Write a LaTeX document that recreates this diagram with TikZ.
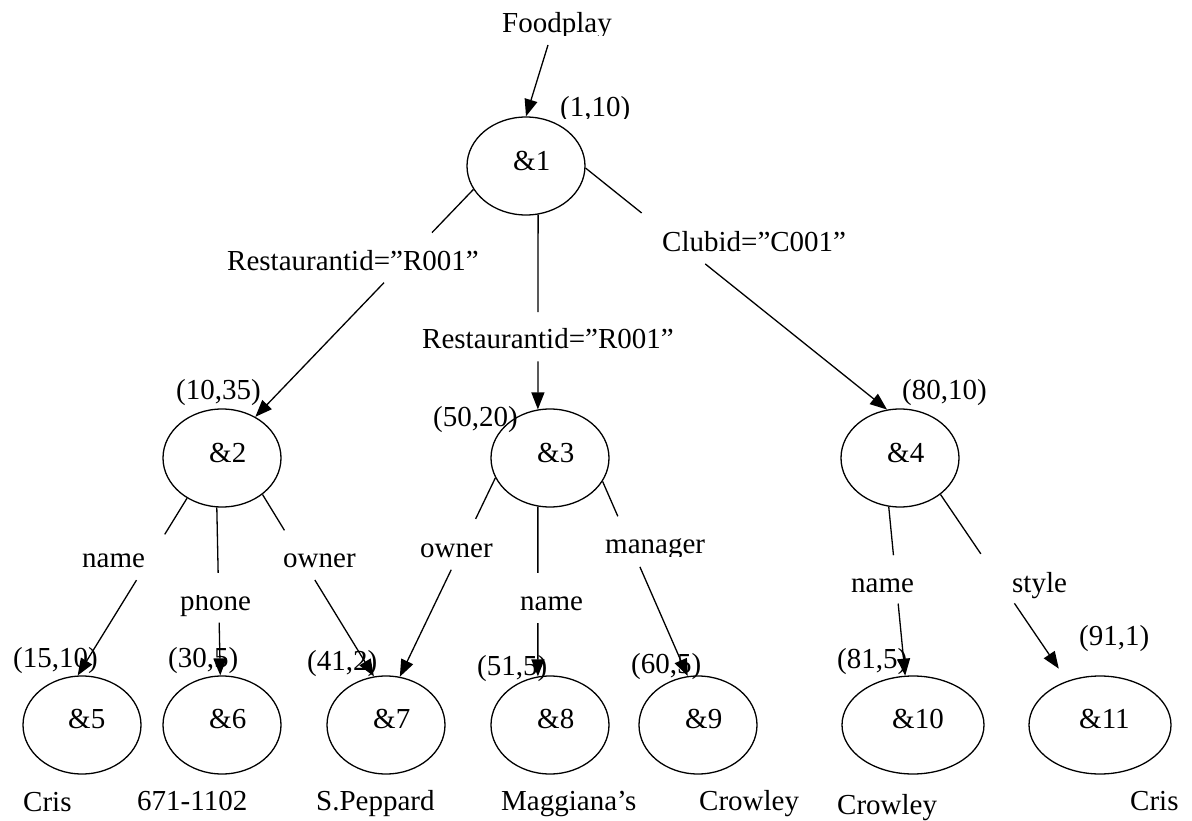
\documentclass[tikz,border=0pt]{standalone}
\usepackage{fontspec}
\setmainfont{Liberation Serif}
\usetikzlibrary{shapes.geometric,arrows.meta,calc}

% an edge interrupted by its label: solid part, gap, arrowed part
\newcommand\gapedge[4]{%
  \draw[edge] (#1) -- ($(#1)!#3!(#2)$);
  \draw[edge,arr] ($(#1)!#4!(#2)$) -- (#2);}

\begin{document}
\begin{tikzpicture}[x=1pt,y=-1pt,
  oval/.style={draw, ellipse, line width=1.3pt, inner sep=0pt,
               minimum width=118pt, minimum height=98pt},
  wideoval/.style={oval, minimum width=142pt},
  lbl/.style={inner sep=0pt, anchor=base west, font=\fontsize{29}{34}\selectfont},
  edge/.style={line width=1.3pt},
  arr/.style={-{Triangle[length=17pt,width=13pt]}}]

\path[use as bounding box] (0,0) rectangle (1192,821);

% object nodes
\node[oval] (n1) at (526,166) {};
\node[oval] (n2) at (222,458) {};
\node[oval] (n3) at (550,458) {};
\node[oval] (n4) at (900,458) {};
\node[oval] (n5) at (82,725) {};
\node[oval] (n6) at (222,725) {};
\node[oval] (n7) at (386,725) {};
\node[oval] (n8) at (550,725) {};
\node[oval] (n9) at (698,725) {};
\node[wideoval] (n10) at (913,725) {};
\node[wideoval] (n11) at (1100,725) {};

% object identifiers
\node[lbl] (t1) at (513,171) {\&1};
\node[lbl] (t2) at (209,462) {\&2};
\node[lbl] (t3) at (537,462) {\&3};
\node[lbl] (t4) at (887,462) {\&4};
\node[lbl] (t5) at (68,728) {\&5};
\node[lbl] (t6) at (209,728) {\&6};
\node[lbl] (t7) at (373,728) {\&7};
\node[lbl] (t8) at (537,728) {\&8};
\node[lbl] (t9) at (685,728) {\&9};
\node[lbl] (t10) at (892,728) {\&10};
\node[lbl] (t11) at (1079,728) {\&11};

% root name and interval labels
\begin{scope}
  \clip (490,0) rectangle (630,36);
  \node[lbl] (food) at (502,33) {Foodplay};
\end{scope}
\begin{scope}
  \clip (550,90) rectangle (645,119);
  \node[lbl] (c1) at (560,117) {(1,10)};
\end{scope}
\node[lbl] (c2) at (176,399) {(10,35)};
\node[lbl] (c3) at (433,426) {(50,20)};
\node[lbl] (c4) at (902,399) {(80,10)};
\node[lbl] (c5) at (13,667) {(15,10)};
\node[lbl] (c6) at (168,667) {(30,5)};
\node[lbl] (c7) at (307,670) {(41,2)};
\node[lbl] (c8) at (477,675) {(51,5)};
\node[lbl] (c9) at (631,673) {(60,5)};
\node[lbl] (c10) at (837,668) {(81,5)};
\node[lbl] (c11) at (1079,645) {(91,1)};

% edge labels
\node[lbl] (e1) at (227,271) {Restaurantid=”R001”};
\node[lbl] (e2) at (422,348) {Restaurantid=”R001”};
\node[lbl] (e3) at (662,252) {Clubid=”C001”};
\node[lbl] (e4) at (82,567) {name};
\begin{scope}
  \clip (170,595) rectangle (265,630);
  \node[lbl] (e5) at (180,610) {phone};
\end{scope}
\node[lbl] (e6) at (283,567) {owner};
\node[lbl] (e7) at (420,557) {owner};
\node[lbl] (e8) at (520,610) {name};
\begin{scope}
  \clip (595,520) rectangle (720,556);
  \node[lbl] (e9) at (605,553) {manager};
\end{scope}
\node[lbl] (e10) at (851,592) {name};
\node[lbl] (e11) at (1012,592) {style};

% atomic values
\node[lbl] (v5) at (23,811) {Cris};
\node[lbl] (v6) at (137,810) {671-1102};
\node[lbl] (v7) at (316,810) {S.Peppard};
\node[lbl] (v8) at (501,810) {Maggiana’s};
\node[lbl] (v9) at (699,810) {Crowley};
\node[lbl] (v10) at (837,814) {Crowley};
\node[lbl] (v11) at (1130,810) {Cris};

% connectors
\coordinate (foodout) at (548,45);
\draw[edge,arr] (foodout) -- (n1.north);
\gapedge{n1.204}{n2.51}{0.19}{0.41}
\gapedge{n1.284}{n3.104}{0.501}{0.754}
\gapedge{n1.358}{n4.105}{0.186}{0.397}
\gapedge{n2.229}{n5.95}{0.204}{0.462}
\gapedge{n2.264}{n6.92}{0.39}{0.686}
\gapedge{n2.318}{n7.104}{0.197}{0.47}
\gapedge{n3.200}{n7.74}{0.206}{0.462}
\gapedge{n3.256}{n8.104}{0.39}{0.686}
\gapedge{n3.336}{n9.102}{0.179}{0.439}
\gapedge{n4.257}{n10.99}{0.287}{0.573}
\coordinate (n11in) at ($(n11.126)+(-9,-12)$);
\gapedge{n4.318}{n11in}{0.341}{0.625}

\end{tikzpicture}
\end{document}
